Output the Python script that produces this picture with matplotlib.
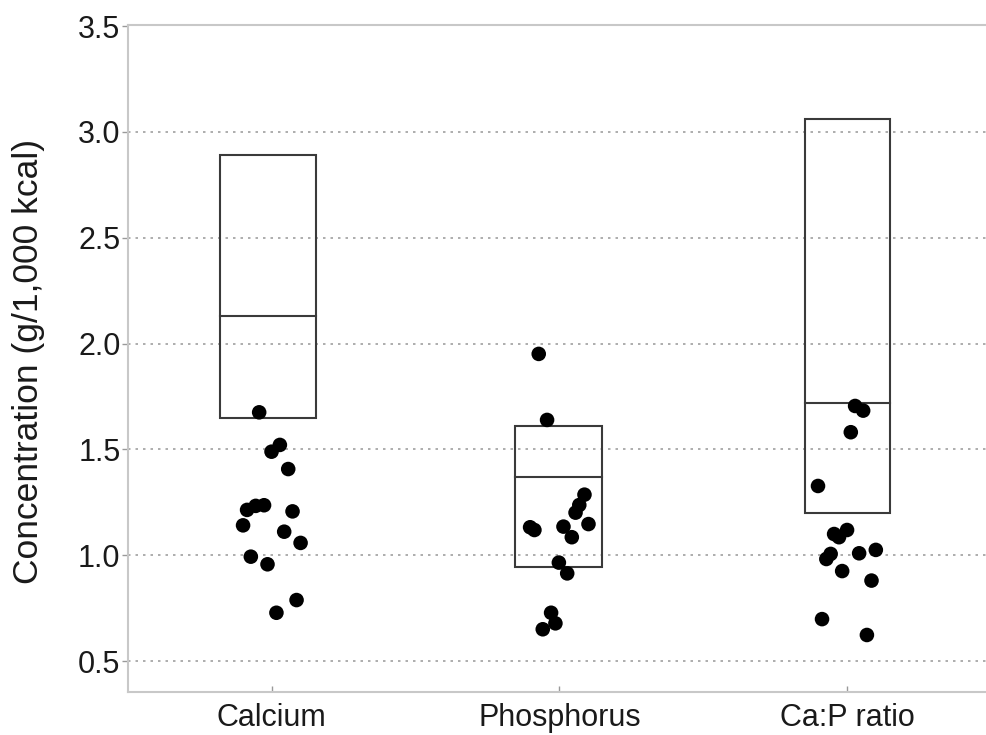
import matplotlib
matplotlib.use("Agg")
import matplotlib.pyplot as plt
from matplotlib.patches import Rectangle

categories = ["Calcium", "Phosphorus", "Ca:P ratio"]

# Reference range boxes (bottom, middle line, top)
box_low = [1.65, 0.945, 1.20]
box_mid = [2.13, 1.37, 1.72]
box_high = [2.89, 1.61, 3.06]

# Observed values per category with horizontal jitter offsets
calcium_vals = [1.675, 1.521, 1.489, 1.407, 1.214, 1.233, 1.236, 1.207,
                1.141, 1.111, 1.058, 0.993, 0.957, 0.788, 0.728]
calcium_jit = [-0.044, 0.028, -0.001, 0.057, -0.086, -0.056, -0.027, 0.072,
               -0.100, 0.043, 0.100, -0.073, -0.015, 0.086, 0.016]
phos_vals = [1.951, 1.639, 1.286, 1.237, 1.201, 1.147, 1.132, 1.119,
             1.135, 1.085, 0.965, 0.914, 0.728, 0.678, 0.650]
phos_jit = [-0.072, -0.043, 0.087, 0.069, 0.056, 0.101, -0.102, -0.087,
            0.014, 0.043, -0.002, 0.027, -0.029, -0.014, -0.058]
ratio_vals = [1.705, 1.683, 1.581, 1.327, 1.119, 1.100, 1.085, 1.025,
              1.006, 0.982, 1.009, 0.925, 0.880, 0.698, 0.623]
ratio_jit = [0.028, 0.056, 0.013, -0.101, 0.000, -0.045, -0.028, 0.100,
             -0.057, -0.072, 0.042, -0.017, 0.085, -0.087, 0.069]

yticks = [0.5, 1.0, 1.5, 2.0, 2.5, 3.0, 3.5]

plt.rcParams['font.family'] = ['Liberation Sans', 'DejaVu Sans']

fig = plt.figure(figsize=(9.87, 7.35), dpi=100)
ax = fig.add_axes([0.1297, 0.0589, 0.8713, 0.9071])

xpos = [1, 2, 3]
box_widths = [0.333, 0.305, 0.295]
box_shift = [-0.014, -0.003, 0.002]
for x, lo, mid, hi, w, s in zip(xpos, box_low, box_mid, box_high, box_widths, box_shift):
    left = x + s - w / 2
    ax.add_patch(Rectangle((left, lo), w, hi - lo, fill=False,
                           edgecolor='#3a3a3a', linewidth=1.5, zorder=3))
    ax.plot([left, left + w], [mid, mid], color='#3a3a3a', linewidth=1.5, zorder=3)

for x, vals, jit in zip(xpos, [calcium_vals, phos_vals, ratio_vals],
                        [calcium_jit, phos_jit, ratio_jit]):
    ax.scatter([x + j for j in jit], vals, s=110, color='black', zorder=4,
               edgecolors='none')

ax.set_xlim(0.5, 3.49)
ax.set_ylim(0.355, 3.505)
ax.set_yticks(yticks)
ax.set_yticklabels([f"{v:.1f}" for v in yticks], fontsize=22, color='#1a1a1a')
ax.set_xticks(xpos)
ax.set_xticklabels(categories, fontsize=22, color='#1a1a1a')

for v in yticks[:-1]:
    ax.axhline(v, color='#a0a0a0', linestyle=(0, (1.5, 3)), linewidth=1.2, zorder=1)

for sp in ['left', 'top', 'bottom']:
    ax.spines[sp].set_color('#c8c8c8')
    ax.spines[sp].set_linewidth(1.5)
ax.spines['right'].set_visible(False)

ax.tick_params(axis='y', direction='out', length=4, color='#999999', width=1, pad=1.5)
ax.tick_params(axis='x', direction='in', length=4, color='#999999', width=1, pad=8)

ax.set_ylabel("Concentration (g/1,000 kcal)", fontsize=25.5, color='#1a1a1a')
ax.yaxis.set_label_coords(-0.097, 0.495)

fig.savefig("out.png", dpi=100)
